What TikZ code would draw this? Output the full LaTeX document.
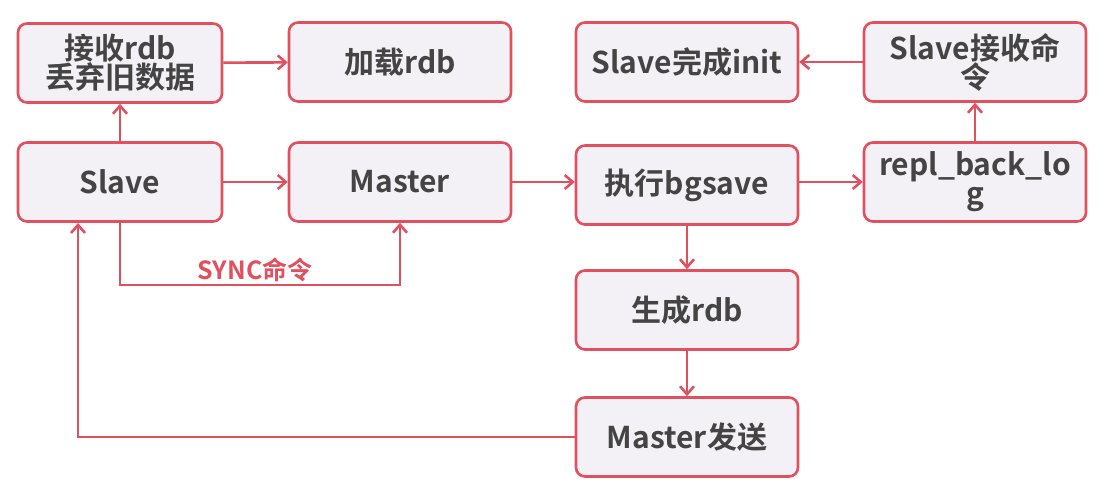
\documentclass[tikz,border=0pt]{standalone}
\usepackage{fontspec}
\setmainfont{Noto Sans CJK SC}[BoldFont={* Bold}]
\usetikzlibrary{arrows.meta}
\definecolor{rl}{HTML}{E0505E}
\definecolor{bx}{HTML}{F3F1F5}
\definecolor{tx}{HTML}{444444}
\tikzset{
 box/.style={draw=rl,line width=2.6pt,fill=bx,rounded corners=9pt,minimum width=222pt,minimum height=79pt,inner sep=2pt,align=center,text width=215pt,font=\fontsize{30}{32}\selectfont\bfseries,text=tx},
 arr/.style={draw=rl,line width=2.6pt,-{Straight Barb[length=8pt,width=14pt,line width=2.6pt]}}
}
\begin{document}
\begin{tikzpicture}[x=1pt,y=-1pt]
\useasboundingbox (0,0) rectangle (1108,500);
\node[box,minimum width=204pt,text width=200pt] (a) at (120,63) {接收rdb\\[-3pt]丢弃旧数据};
\node[box] (b) at (400,62) {加载rdb};
\node[box] (c) at (687,62) {Slave完成init};
\node[box] (d) at (975,62) {Slave接收命\\[-3pt]令};
\node[box,minimum width=204pt,text width=200pt] (s) at (120,182) {Slave};
\node[box] (m) at (400,182) {Master};
\node[box] (g) at (687,185) {执行bgsave};
\node[box] (r) at (975,182) {repl\_back\_lo\\[-3pt]g};
\node[box] (n) at (687,310) {生成rdb};
\node[box] (f) at (687,437) {Master发送};
\draw[arr] (s) -- (a);
\draw[arr] (a) -- (b);
\draw[arr] (d) -- (c);
\draw[arr] (r) -- (d);
\draw[arr] (s) -- (m);
\draw[arr] (m.east) -- (g.west|-m.east);
\draw[arr] (g.east|-r.west) -- (r.west);
\draw[arr] (g) -- (n);
\draw[arr] (n) -- (f);
\draw[arr] (f.west) -- (78,437) -- (78,223);
\draw[arr] (s.south) -- (120,285) -- (400,285) -- (m.south);
\node[text=rl,font=\fontsize{25}{26}\selectfont\bfseries] (sync) at (255,270) {SYNC命令};
\end{tikzpicture}
\end{document}
